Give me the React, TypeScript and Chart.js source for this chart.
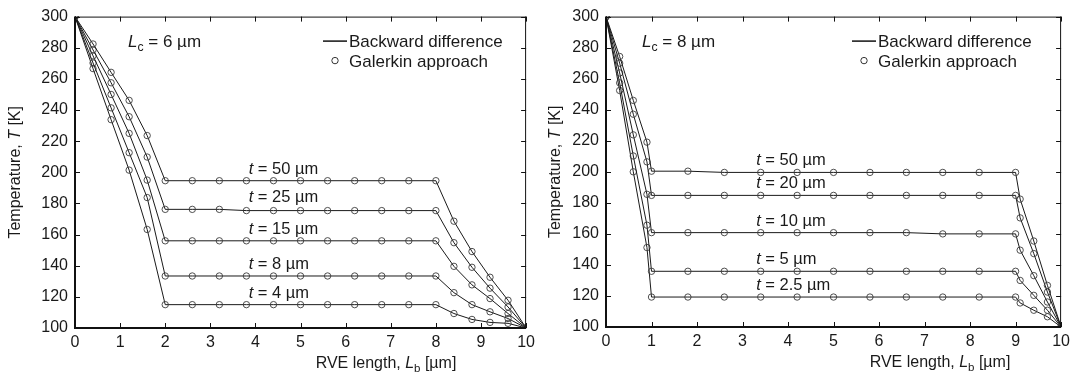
import React, { useEffect, useRef } from "react";
import { Chart, registerables } from "chart.js";
Chart.register(...registerables);

const FONT = '"Liberation Sans", Arial, Helvetica, sans-serif';

const X_TICKS = [0, 1, 2, 3, 4, 5, 6, 7, 8, 9, 10];
const Y_TICKS = [100, 120, 140, 160, 180, 200, 220, 240, 260, 280, 300];

// ---- Left panel: Lc = 6 um ----
const LEFT_X = [0, 0.4, 0.8, 1.2, 1.6, 2.0, 2.6, 3.2, 3.8, 4.4, 5.0, 5.6, 6.2, 6.8, 7.4, 8.0, 8.4, 8.8, 9.2, 9.6, 10];
const LEFT_T50 = [300, 282.4, 264.2, 246.2, 223.6, 194.6, 194.6, 194.6, 194.6, 194.6, 194.6, 194.6, 194.6, 194.6, 194.6, 194.6, 168.6, 149.1, 132.6, 117.8, 100];
const LEFT_T25 = [300, 278.6, 257.5, 235.7, 209.8, 176.2, 176.2, 176.2, 175.4, 175.4, 175.4, 175.4, 175.4, 175.4, 175.4, 175.4, 154.8, 139.0, 125.6, 113.5, 100];
const LEFT_T15 = [300, 274.8, 250.0, 225.0, 195.0, 156.0, 156.0, 156.0, 156.0, 156.0, 156.0, 156.0, 156.0, 156.0, 156.0, 156.0, 139.6, 127.7, 118.9, 109.3, 100];
const LEFT_T8 = [300, 270.2, 241.4, 212.6, 183.8, 133.4, 133.4, 133.4, 133.4, 133.4, 133.4, 133.4, 133.4, 133.4, 133.4, 133.4, 122.7, 115.0, 110.4, 106.1, 100];
const LEFT_T4 = [300, 266.6, 233.8, 201.4, 163.3, 115.0, 115.0, 115.0, 115.0, 115.0, 115.0, 115.0, 115.0, 115.0, 115.0, 115.0, 109.3, 105.5, 103.6, 103.0, 100];
const LEFT_SERIES = [LEFT_T50, LEFT_T25, LEFT_T15, LEFT_T8, LEFT_T4];
const LEFT_T_LABELS = ["50", "25", "15", "8", "4"];
const LEFT_LC = "6";

// ---- Right panel: Lc = 8 um ----
const RIGHT_X = [0, 0.3, 0.6, 0.9, 1.0, 1.8, 2.6, 3.4, 4.2, 5.0, 5.8, 6.6, 7.4, 8.2, 9.0, 9.1, 9.4, 9.7, 10];
const RIGHT_T50 = [300, 274.3, 246.0, 219.1, 200.4, 200.4, 199.6, 199.6, 199.6, 199.6, 199.6, 199.6, 199.6, 199.6, 199.6, 182.4, 155.4, 126.8, 100];
const RIGHT_T20 = [300, 270.0, 237.1, 206.4, 184.8, 184.8, 184.8, 184.8, 184.8, 184.8, 184.8, 184.8, 184.8, 184.8, 184.8, 170.3, 147.3, 122.5, 100];
const RIGHT_T10 = [300, 263.7, 223.8, 185.5, 160.8, 160.8, 160.8, 160.8, 160.8, 160.8, 160.8, 160.8, 160.0, 160.0, 160.0, 149.5, 133.1, 116.1, 100];
const RIGHT_T5 = [300, 257.3, 210.2, 165.6, 135.9, 135.9, 135.9, 135.9, 135.9, 135.9, 135.9, 135.9, 135.9, 135.9, 135.9, 130.0, 120.4, 110.8, 100];
const RIGHT_T2_5 = [300, 252.4, 200.0, 151.2, 119.3, 119.3, 119.3, 119.3, 119.3, 119.3, 119.3, 119.3, 119.3, 119.3, 119.3, 115.5, 110.8, 106.6, 100];
const RIGHT_SERIES = [RIGHT_T50, RIGHT_T20, RIGHT_T10, RIGHT_T5, RIGHT_T2_5];
const RIGHT_T_LABELS = ["50", "20", "10", "5", "2.5"];
const RIGHT_LC = "8";

type Part = { t: string; italic?: boolean; sub?: boolean };

function drawRich(ctx: CanvasRenderingContext2D, parts: Part[], x: number, y: number, size: number, align: "left" | "center" | "right") {
  const fontFor = (p: Part) => `${p.italic ? "italic " : ""}${p.sub ? size * 0.72 : size}px ${FONT}`;
  const widths = parts.map((p) => {
    ctx.font = fontFor(p);
    return ctx.measureText(p.t).width;
  });
  const total = widths.reduce((a, b) => a + b, 0);
  let cx = align === "left" ? x : align === "center" ? x - total / 2 : x - total;
  ctx.textBaseline = "alphabetic";
  ctx.textAlign = "left";
  parts.forEach((p, i) => {
    ctx.font = fontFor(p);
    ctx.fillText(p.t, cx, p.sub ? y + size * 0.25 : y);
    cx += widths[i];
  });
}

type PanelProps = {
  xs: number[];
  series: number[][];
  tLabels: string[];
  lc: string;
  width: number;
  yAxisWidth: number;
  padRight: number;
  xAxisHeight: number;
  tLabelX: number; // data x where t labels start
  lcX: number; // canvas x
  legendX: number; // canvas x of legend text start
  xTitleCenter: number; // canvas x
};

const HEIGHT = 378;

function Panel(props: PanelProps) {
  const ref = useRef<HTMLCanvasElement | null>(null);
  useEffect(() => {
    const canvas = ref.current!;
    const datasets = props.series.map((ys, si) => ({
      label: "t = " + props.tLabels[si],
      data: props.xs.map((x, i) => ({ x, y: ys[i] })),
      showLine: true,
      borderColor: "#1a1a1a",
      borderWidth: 1,
      pointRadius: 3.2,
      pointStyle: "circle",
      pointBorderColor: "#3c3c3c",
      pointBorderWidth: 0.9,
      pointBackgroundColor: "rgba(255,255,255,0)",
      tension: 0,
    }));

    const decor = {
      id: "decor",
      afterDraw(chart: any) {
        const ctx: CanvasRenderingContext2D = chart.ctx;
        const a = chart.chartArea;
        const xs = chart.scales.x;
        const ys = chart.scales.y;
        ctx.save();
        // frame
        ctx.strokeStyle = "#111";
        ctx.lineWidth = 1;
        ctx.beginPath();
        ctx.moveTo(a.left, a.top + 0.5);
        ctx.lineTo(a.right, a.top + 0.5);
        ctx.moveTo(a.right - 0.5, a.top);
        ctx.lineTo(a.right - 0.5, a.bottom);
        ctx.stroke();
        ctx.lineWidth = 2;
        ctx.beginPath();
        ctx.moveTo(a.left, a.top);
        ctx.lineTo(a.left, a.bottom);
        ctx.lineTo(a.right, a.bottom);
        ctx.stroke();
        // inward ticks
        ctx.lineWidth = 1;
        ctx.beginPath();
        const TL = 5;
        X_TICKS.forEach((v) => {
          const px = Math.round(xs.getPixelForValue(v)) + 0.5;
          ctx.moveTo(px, a.bottom);
          ctx.lineTo(px, a.bottom - TL);
          ctx.moveTo(px, a.top);
          ctx.lineTo(px, a.top + TL);
        });
        Y_TICKS.forEach((v) => {
          const py = Math.round(ys.getPixelForValue(v)) + 0.5;
          ctx.moveTo(a.left, py);
          ctx.lineTo(a.left + TL, py);
          ctx.moveTo(a.right, py);
          ctx.lineTo(a.right - TL, py);
        });
        ctx.stroke();

        ctx.fillStyle = "#1a1a1a";
        // Lc label
        drawRich(ctx, [{ t: "L", italic: true }, { t: "c", sub: true }, { t: " = " + props.lc + " \u00b5m" }], props.lcX, a.top + 30, 17, "left");
        // legend
        ctx.strokeStyle = "#111";
        ctx.lineWidth = 1.5;
        ctx.beginPath();
        ctx.moveTo(props.legendX - 26, a.top + 24.5);
        ctx.lineTo(props.legendX - 2, a.top + 24.5);
        ctx.stroke();
        drawRich(ctx, [{ t: "Backward difference" }], props.legendX, a.top + 30.5, 17, "left");
        ctx.lineWidth = 1;
        ctx.strokeStyle = "#333";
        ctx.beginPath();
        ctx.ellipse(props.legendX - 14, a.top + 44, 3.2, 3.2, 0, 0, Math.PI * 2);
        ctx.stroke();
        drawRich(ctx, [{ t: "Galerkin approach" }], props.legendX, a.top + 50, 17, "left");
        // t labels
        props.series.forEach((ser, si) => {
          const flat = ser[6];
          const py = ys.getPixelForValue(flat) - 7;
          const px = xs.getPixelForValue(props.tLabelX);
          drawRich(ctx, [{ t: "t", italic: true }, { t: " = " + props.tLabels[si] + " \u00b5m" }], px, py, 16.5, "left");
        });
        // y title
        ctx.save();
        ctx.translate(20, (a.top + a.bottom) / 2);
        ctx.rotate(-Math.PI / 2);
        drawRich(ctx, [{ t: "Temperature, " }, { t: "T", italic: true }, { t: " [K]" }], 0, 0, 16, "center");
        ctx.restore();
        // x title
        drawRich(ctx, [{ t: "RVE length, " }, { t: "L", italic: true }, { t: "b", sub: true }, { t: " [\u00b5m]" }], props.xTitleCenter, a.bottom + 40, 16, "center");
        ctx.restore();
      },
    };

    const chart = new Chart(canvas, {
      type: "scatter",
      data: { datasets: datasets as any },
      options: {
        animation: false,
        responsive: false,
        maintainAspectRatio: false,
        layout: { padding: { top: 13, right: props.padRight, left: 0, bottom: 0 } },
        plugins: { legend: { display: false }, tooltip: { enabled: false } },
        scales: {
          x: {
            type: "linear",
            min: 0,
            max: 10,
            afterBuildTicks: (s: any) => {
              s.ticks = X_TICKS.map((v) => ({ value: v }));
            },
            afterFit: (s: any) => {
              s.height = props.xAxisHeight;
            },
            grid: { display: false, drawTicks: false },
            border: { display: false },
            ticks: { font: { family: FONT, size: 16 }, color: "#1a1a1a", padding: 5, maxRotation: 0 },
          },
          y: {
            type: "linear",
            min: 100,
            max: 300,
            afterBuildTicks: (s: any) => {
              s.ticks = Y_TICKS.map((v) => ({ value: v }));
            },
            afterFit: (s: any) => {
              s.width = props.yAxisWidth;
            },
            grid: { display: false, drawTicks: false },
            border: { display: false },
            ticks: { font: { family: FONT, size: 16 }, color: "#1a1a1a", padding: 7 },
          },
        },
      },
      plugins: [decor],
    });
    return () => chart.destroy();
  }, []);
  return <canvas ref={ref} width={props.width} height={HEIGHT} style={{ width: props.width, height: HEIGHT, display: "block" }} />;
}

export default function App() {
  return (
    <div style={{ position: "absolute", left: 0, top: 0, width: 1075, height: HEIGHT, background: "#fff", display: "flex" }}>
      <Panel
        xs={LEFT_X}
        series={LEFT_SERIES}
        tLabels={LEFT_T_LABELS}
        lc={LEFT_LC}
        width={540}
        yAxisWidth={75}
        padRight={9}
        xAxisHeight={50}
        tLabelX={3.85}
        lcX={128}
        legendX={349}
        xTitleCenter={386}
      />
      <Panel
        xs={RIGHT_X}
        series={RIGHT_SERIES}
        tLabels={RIGHT_T_LABELS}
        lc={RIGHT_LC}
        width={535}
        yAxisWidth={66}
        padRight={12}
        xAxisHeight={51}
        tLabelX={3.3}
        lcX={102}
        legendX={338}
        xTitleCenter={400}
      />
    </div>
  );
}
